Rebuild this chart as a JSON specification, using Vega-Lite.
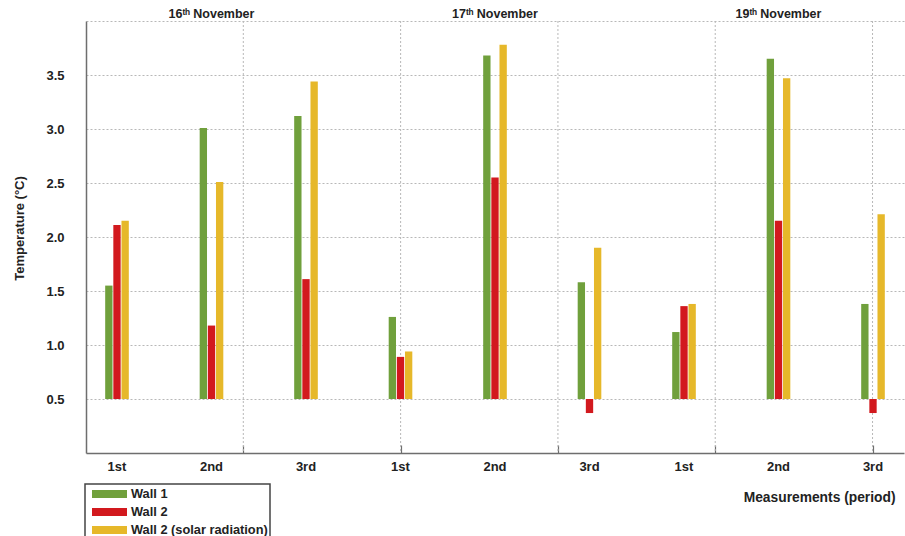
{
  "$schema": "https://vega.github.io/schema/vega-lite/v6.json",
  "width": 818,
  "height": 432,
  "autosize": {"type": "none"},
  "padding": {"left": 86, "top": 21, "right": 1, "bottom": 83},
  "background": "white",
  "config": {
    "view": {"stroke": null},
    "font": "Liberation Sans",
    "axis": {"labelColor": "#222", "titleColor": "#222", "domainColor": "#6e6e6e", "domainWidth": 1.5},
    "axisY": {"gridColor": "#b8b8b8", "gridDash": [2, 2]},
    "legend": {"strokeColor": "#444", "strokeWidth": 1.5}
  },
  "datasets": {
    "temps": [
      {"slot": "16 1st", "wall": "Wall 1", "t": 1.55},
      {"slot": "16 1st", "wall": "Wall 2", "t": 2.11},
      {"slot": "16 1st", "wall": "Wall 2 (solar radiation)", "t": 2.15},
      {"slot": "16 2nd", "wall": "Wall 1", "t": 3.01},
      {"slot": "16 2nd", "wall": "Wall 2", "t": 1.18},
      {"slot": "16 2nd", "wall": "Wall 2 (solar radiation)", "t": 2.51},
      {"slot": "16 3rd", "wall": "Wall 1", "t": 3.12},
      {"slot": "16 3rd", "wall": "Wall 2", "t": 1.61},
      {"slot": "16 3rd", "wall": "Wall 2 (solar radiation)", "t": 3.44},
      {"slot": "17 1st", "wall": "Wall 1", "t": 1.26},
      {"slot": "17 1st", "wall": "Wall 2", "t": 0.89},
      {"slot": "17 1st", "wall": "Wall 2 (solar radiation)", "t": 0.94},
      {"slot": "17 2nd", "wall": "Wall 1", "t": 3.68},
      {"slot": "17 2nd", "wall": "Wall 2", "t": 2.55},
      {"slot": "17 2nd", "wall": "Wall 2 (solar radiation)", "t": 3.78},
      {"slot": "17 3rd", "wall": "Wall 1", "t": 1.58},
      {"slot": "17 3rd", "wall": "Wall 2", "t": 0.37},
      {"slot": "17 3rd", "wall": "Wall 2 (solar radiation)", "t": 1.90},
      {"slot": "19 1st", "wall": "Wall 1", "t": 1.12},
      {"slot": "19 1st", "wall": "Wall 2", "t": 1.36},
      {"slot": "19 1st", "wall": "Wall 2 (solar radiation)", "t": 1.38},
      {"slot": "19 2nd", "wall": "Wall 1", "t": 3.65},
      {"slot": "19 2nd", "wall": "Wall 2", "t": 2.15},
      {"slot": "19 2nd", "wall": "Wall 2 (solar radiation)", "t": 3.47},
      {"slot": "19 3rd", "wall": "Wall 1", "t": 1.38},
      {"slot": "19 3rd", "wall": "Wall 2", "t": 0.37},
      {"slot": "19 3rd", "wall": "Wall 2 (solar radiation)", "t": 2.21}
    ],
    "grid": [{"g": 1}, {"g": 2}, {"g": 3}, {"g": 4}, {"g": 5}],
    "days": [
      {"slot": "16 2nd", "label": "16ᵗʰ November"},
      {"slot": "17 2nd", "label": "17ᵗʰ November"},
      {"slot": "19 2nd", "label": "19ᵗʰ November"}
    ]
  },
  "layer": [
    {
      "data": {"name": "grid"},
      "mark": {"type": "rule", "stroke": "#b8b8b8", "strokeWidth": 1, "strokeDash": [2, 2]},
      "encoding": {
        "x": {
          "field": "g",
          "type": "quantitative",
          "scale": {"domain": [0, 5.2], "nice": false, "zero": false},
          "axis": {
            "orient": "bottom",
            "values": [1, 2, 3, 4, 5],
            "labels": false,
            "domain": false,
            "grid": false,
            "ticks": true,
            "tickSize": -8,
            "tickColor": "#6e6e6e",
            "tickWidth": 1.2,
            "title": null
          }
        }
      }
    },
    {
      "encoding": {
        "x": {
          "field": "slot",
          "type": "nominal",
          "scale": {
            "domain": ["16 1st", "16 2nd", "16 3rd", "17 1st", "17 2nd", "17 3rd", "19 1st", "19 2nd", "19 3rd"],
            "paddingInner": 0.75,
            "paddingOuter": 0.203
          },
          "axis": {
            "orient": "bottom",
            "labelExpr": "slice(datum.value, 3)",
            "labelAngle": 0,
            "labelFontSize": 13,
            "labelFontWeight": "bold",
            "labelPadding": 7,
            "ticks": false,
            "grid": false,
            "title": "Measurements (period)",
            "titleFontSize": 13.8,
            "titleFontWeight": "bold",
            "titleAlign": "right",
            "titleBaseline": "middle",
            "titleX": 809,
            "titleY": 44
          }
        }
      },
      "layer": [
        {
          "data": {"name": "temps"},
          "mark": {"type": "bar"},
          "encoding": {
            "xOffset": {
              "field": "wall",
              "type": "nominal",
              "sort": ["Wall 1", "Wall 2", "Wall 2 (solar radiation)"],
              "scale": {"paddingInner": 0.1, "paddingOuter": 0}
            },
            "y": {
              "field": "t",
              "type": "quantitative",
              "scale": {"domain": [0, 4], "nice": false, "zero": false},
              "axis": {
                "values": [0.5, 1, 1.5, 2, 2.5, 3, 3.5, 4],
                "labelExpr": "datum.value >= 4 ? '' : format(datum.value, '.1f')",
                "labelFontSize": 13,
                "labelFontWeight": "bold",
                "labelPadding": 22,
                "ticks": false,
                "grid": true,
                "title": "Temperature (°C)",
                "titleFontSize": 13,
                "titleFontWeight": "bold",
                "titlePadding": 19,
                "titleY": 207
              }
            },
            "y2": {"datum": 0.5},
            "color": {
              "field": "wall",
              "type": "nominal",
              "scale": {
                "domain": ["Wall 1", "Wall 2", "Wall 2 (solar radiation)"],
                "range": ["#70a03c", "#d2191e", "#e6b82a"]
              },
              "legend": {
                "orient": "none",
                "legendX": -1,
                "legendY": 463,
                "direction": "vertical",
                "title": null,
                "symbolType": "M-1,-0.23H1V0.23H-1Z",
                "symbolSize": 1225,
                "symbolStrokeWidth": 0,
                "symbolOpacity": 1,
                "symbolOffset": 5,
                "clipHeight": 16,
                "rowPadding": 2,
                "padding": 2,
                "labelOffset": 4,
                "labelFontSize": 12.8,
                "labelFontWeight": "bold",
                "labelColor": "#222"
              }
            }
          }
        },
        {
          "data": {"name": "days"},
          "mark": {"type": "text", "fontSize": 12.5, "fontWeight": "bold", "color": "#222", "baseline": "middle", "dy": -7},
          "encoding": {
            "y": {"datum": 4},
            "text": {"field": "label"}
          }
        }
      ]
    }
  ],
  "resolve": {"scale": {"x": "independent"}, "axis": {"x": "independent"}}
}
